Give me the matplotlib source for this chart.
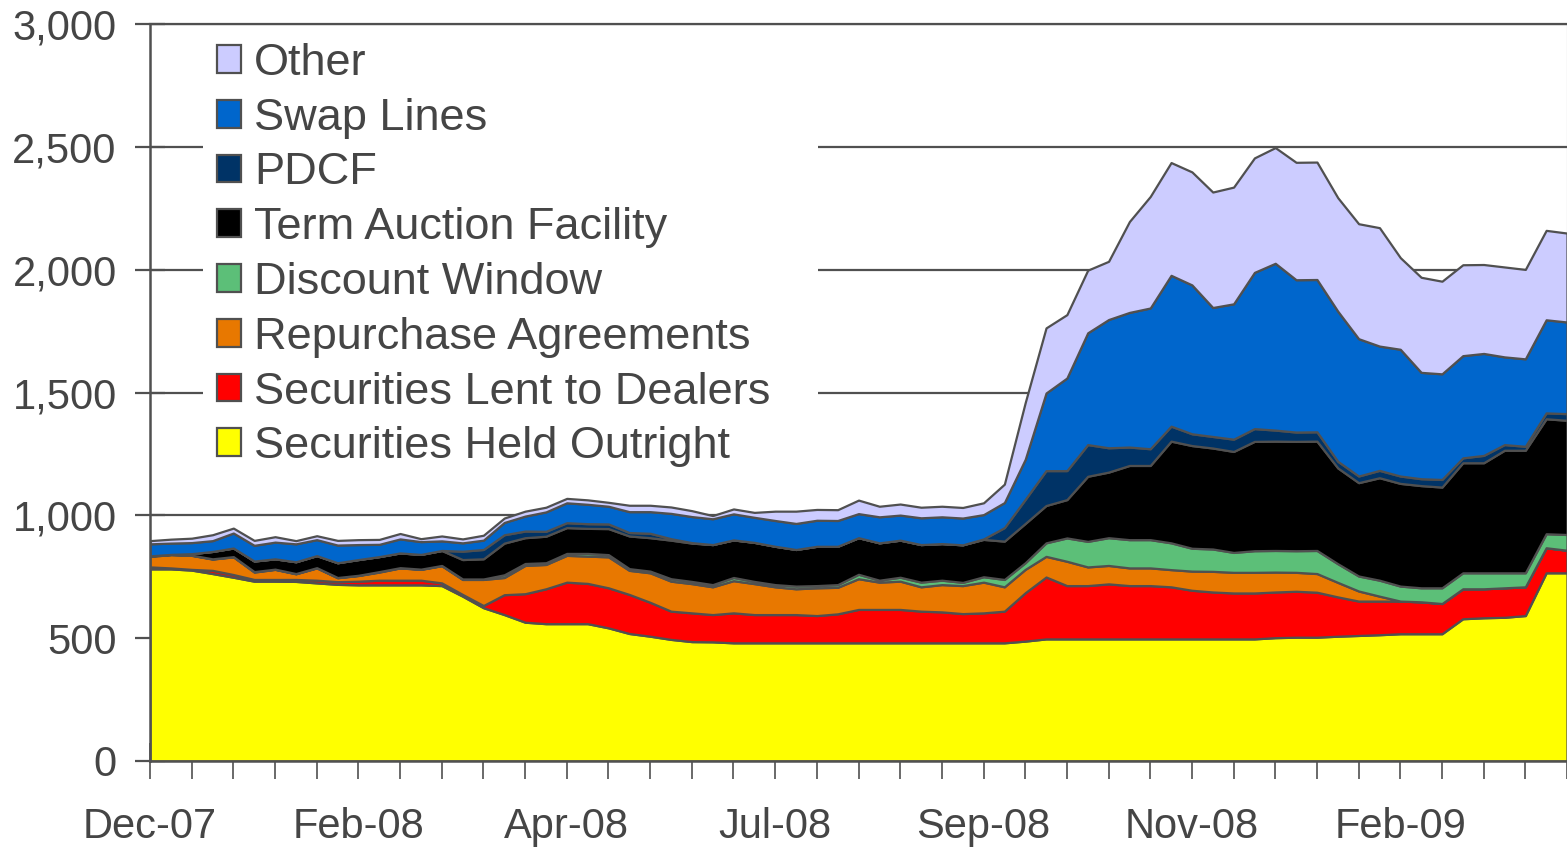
import matplotlib
matplotlib.use("Agg")
import matplotlib.pyplot as plt
from matplotlib.ticker import MultipleLocator, FuncFormatter

plt.rcParams['font.family'] = ['Liberation Sans', 'DejaVu Sans']

# weekly points, Dec-07 .. Apr-09 ($ billions)
weeks = list(range(69))
date_labels = ['Dec-07', 'Feb-08', 'Apr-08', 'Jul-08', 'Sep-08', 'Nov-08', 'Feb-09']

held = [782, 782, 777, 763, 748, 732, 732, 731, 725, 719, 717, 717, 717, 717, 714, 671, 624, 596, 565, 559,
        559, 559, 542, 519, 508, 495, 486, 485, 481, 481, 481, 481, 481, 481, 481, 481, 481, 481, 481, 481,
        481, 481, 488, 497, 497, 497, 497, 497, 497, 497, 497, 497, 497, 497, 502, 504, 504, 508, 511, 514,
        518, 518, 518, 579, 583, 585, 592, 766, 766]
lent = [8, 4, 3, 13, 11, 7, 7, 8, 11, 11, 15, 19, 19, 19, 11, 7, 9, 81, 116, 142,
        169, 164, 163, 159, 138, 115, 117, 111, 122, 115, 115, 115, 111, 118, 136, 136, 136, 129, 126, 119,
        122, 129, 197, 252, 217, 217, 224, 217, 217, 212, 198, 191, 187, 187, 186, 187, 183, 160, 140, 137,
        133, 130, 123, 122, 118, 120, 117, 102, 92]
repo = [43, 54, 57, 46, 72, 30, 41, 23, 50, 16, 23, 33, 50, 44, 70, 61, 106, 70, 115, 99,
        109, 111, 126, 98, 120, 122, 119, 113, 131, 126, 113, 105, 113, 108, 125, 111, 115, 99, 111, 114,
        125, 99, 95, 84, 99, 76, 75, 72, 72, 70, 78, 84, 84, 84, 81, 77, 76, 59, 41, 20,
        0, 0, 0, 0, 0, 0, 0, 0, 0]
dw = [2, 1, 1, 1, 1, 2, 1, 1, 1, 1, 1, 2, 1, 1, 1, 2, 2, 11, 8, 7,
      8, 11, 9, 7, 7, 10, 9, 9, 13, 9, 9, 11, 9, 11, 18, 8, 16, 19, 18, 13,
      22, 30, 27, 55, 95, 104, 113, 115, 115, 109, 93, 91, 81, 88, 88, 88, 94, 76, 61, 65,
      61, 57, 64, 65, 65, 61, 57, 57, 64]
taf = [0, 0, 6, 30, 35, 43, 42, 48, 49, 60, 64, 61, 60, 60, 61, 79, 82, 129, 105, 108,
       105, 102, 106, 133, 136, 157, 156, 163, 153, 159, 156, 149, 160, 156, 149, 152, 151, 153, 149, 153,
       152, 156, 160, 152, 156, 265, 267, 302, 302, 414, 418, 411, 411, 445, 445, 445, 445, 390, 380, 417,
       418, 416, 410, 448, 448, 499, 499, 468, 465]
pdcf = [0, 0, 0, 0, 0, 0, 0, 0, 0, 0, 0, 0, 0, 0, 0, 34, 38, 34, 27, 20,
        20, 19, 19, 14, 18, 6, 2, 0, 0, 0, 0, 0, 0, 0, 0, 0, 0, 0, 0, 0,
        2, 55, 98, 142, 118, 129, 99, 75, 68, 61, 48, 47, 50, 52, 45, 38, 38, 27, 27, 30,
        30, 28, 31, 20, 30, 23, 16, 24, 27]
swap = [49, 46, 45, 44, 61, 64, 68, 73, 65, 72, 61, 50, 57, 52, 39, 34, 38, 50, 61, 79,
        81, 79, 72, 85, 88, 103, 106, 105, 106, 102, 105, 106, 106, 105, 98, 106, 102, 109, 109, 109,
        99, 102, 163, 316, 377, 455, 522, 548, 573, 614, 606, 525, 551, 636, 679, 620, 620, 611, 559, 506,
        516, 433, 430, 416, 415, 357, 356, 379, 373]
other = [13, 16, 18, 24, 20, 20, 22, 13, 16, 19, 20, 20, 22, 12, 20, 16, 20, 18, 20, 19,
         18, 18, 16, 26, 26, 26, 24, 13, 20, 20, 38, 50, 44, 44, 55, 43, 45, 43, 43, 43,
         48, 75, 231, 265, 258, 255, 237, 370, 454, 459, 460, 470, 475, 466, 471, 478, 478, 462, 468, 482,
         373, 387, 377, 370, 362, 366, 364, 364, 362]

names = ['Securities Held Outright', 'Securities Lent to Dealers', 'Repurchase Agreements',
         'Discount Window', 'Term Auction Facility', 'PDCF', 'Swap Lines', 'Other']
colors = ['#FFFF00', '#FF0000', '#E87800', '#5CBF78', '#000000', '#003366', '#0066CC', '#CCCCFF']

grey = '#505050'
txt = '#454545'

fig = plt.figure(figsize=(15.67, 8.48), dpi=100)
ax = fig.add_axes([150 / 1567, 1 - 761 / 848, 1417 / 1567, (761 - 24) / 848])

polys = ax.stackplot(weeks, held, lent, repo, dw, taf, pdcf, swap, other,
                     colors=colors, labels=names, edgecolor=grey, linewidth=1.6, zorder=3)

ax.set_xlim(0, 68)
ax.set_ylim(0, 3000)
ax.yaxis.set_major_locator(MultipleLocator(500))
ax.yaxis.set_major_formatter(FuncFormatter(lambda v, p: f'{int(v):,}'))
ax.grid(axis='y', color=grey, linewidth=1.6, zorder=0)
ax.set_axisbelow(True)

ax.xaxis.set_minor_locator(MultipleLocator(2))
ax.set_xticks(range(0, 70, 10))
ax.set_xticklabels(date_labels)

ax.tick_params(axis='y', which='major', direction='inout', length=22, width=1.6, color=grey,
               labelsize=30, labelcolor=txt, pad=13)
ax.tick_params(axis='x', which='both', direction='inout', length=26, width=1.2, color=grey,
               labelsize=30, labelcolor=txt, pad=20)

for s in ['left', 'bottom']:
    ax.spines[s].set_color(grey)
    ax.spines[s].set_linewidth(1.8)
    ax.spines[s].set_zorder(4)
ax.spines['top'].set_color(grey)
ax.spines['top'].set_linewidth(1.6)
ax.spines['right'].set_color('#9a9a9a')
ax.spines['right'].set_linewidth(0.8)

h, l = ax.get_legend_handles_labels()
leg = ax.legend(h[::-1], l[::-1], loc='upper left', mode='expand',
                bbox_to_anchor=(0.0215, 0.4, 0.466, 0.6233),
                fontsize=32.5, frameon=True, fancybox=False, borderpad=0.3,
                handlelength=0.55, handleheight=0.57, handletextpad=0.28, labelspacing=0.305)
leg.get_frame().set_facecolor('white')
leg.get_frame().set_edgecolor('none')
leg.get_frame().set_alpha(1)
leg.set_zorder(5)
for t in leg.get_texts():
    t.set_color(txt)

fig.savefig('out.png', dpi=100)
